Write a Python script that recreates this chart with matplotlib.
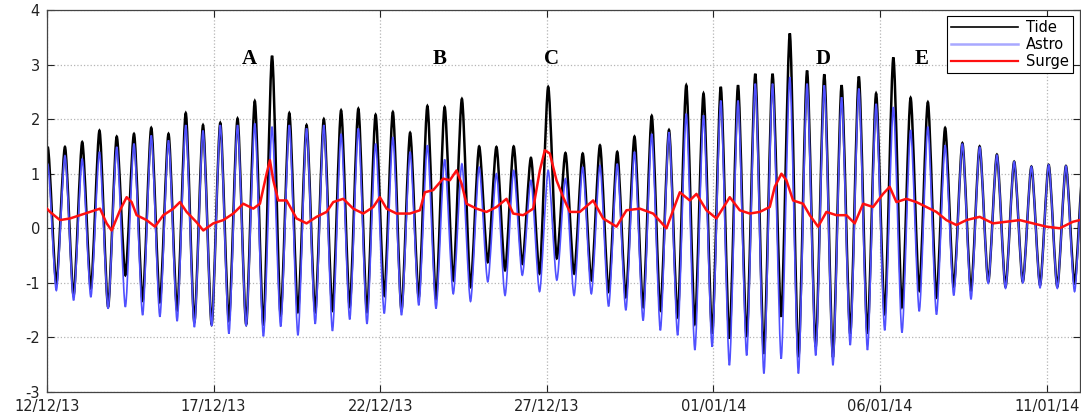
import matplotlib
matplotlib.use("Agg")
import matplotlib.pyplot as plt
import matplotlib.dates as mdates
from matplotlib.path import Path
from matplotlib.patches import PathPatch
from matplotlib.lines import Line2D
from datetime import datetime, timedelta

# ---------------- data ----------------
start = datetime(2013, 12, 12)
first_hw_hours = 0.5          # time of first high water after start
tidal_period_hours = 12.43    # semi-diurnal tidal cycle

tide_high = [1.49, 1.49, 1.58, 1.79, 1.68, 1.73, 1.84, 1.73, 2.11, 1.89,
             1.93, 2.01, 2.33, 3.16, 2.11, 1.89, 2.00, 2.16, 2.19, 2.08,
             2.13, 1.75, 2.24, 2.22, 2.37, 1.50, 1.49, 1.50, 1.29, 2.59,
             1.38, 1.37, 1.52, 1.40, 1.68, 2.06, 1.80, 2.62, 2.47, 2.59,
             2.62, 2.83, 2.83, 3.57, 2.89, 2.82, 2.62, 2.78, 2.47, 3.13,
             2.39, 2.31, 1.84, 1.56, 1.50, 1.35, 1.22, 1.13, 1.16, 1.14, 1.12]
tide_low = [-1.01, -1.23, -1.10, -1.44, -0.86, -1.32, -1.35, -1.50, -1.72, -1.76,
            -1.69, -1.76, -1.78, -1.59, -1.53, -1.53, -1.50, -1.43, -1.53, -1.23,
            -1.50, -1.26, -1.29, -0.95, -1.07, -0.62, -0.77, -0.65, -0.83, -0.55,
            -0.83, -0.95, -1.16, -1.26, -1.44, -1.50, -1.62, -1.75, -1.93, -2.02,
            -1.99, -2.30, -1.62, -2.36, -2.17, -2.36, -1.93, -1.93, -1.56, -1.44,
            -1.14, -1.26, -1.07, -1.14, -0.98, -1.07, -0.98, -1.04, -1.07, -1.01]
astro_high = [1.18, 1.33, 1.27, 1.40, 1.49, 1.55, 1.70, 1.61, 1.89, 1.79,
              1.89, 1.89, 1.92, 1.86, 1.89, 1.83, 1.89, 1.73, 1.83, 1.55,
              1.67, 1.40, 1.52, 1.26, 1.18, 1.12, 1.00, 1.06, 0.88, 1.06,
              0.91, 1.12, 1.15, 1.18, 1.40, 1.73, 1.76, 2.10, 2.07, 2.34,
              2.34, 2.65, 2.65, 2.77, 2.65, 2.62, 2.40, 2.56, 2.28, 2.22,
              1.80, 1.86, 1.52, 1.55, 1.49, 1.34, 1.22, 1.13, 1.16, 1.14, 1.12]
astro_low = [-1.14, -1.32, -1.26, -1.47, -1.44, -1.59, -1.62, -1.70, -1.81, -1.79,
             -1.93, -1.79, -1.98, -1.80, -1.96, -1.75, -1.88, -1.67, -1.75, -1.56,
             -1.59, -1.41, -1.47, -1.20, -1.34, -0.98, -1.23, -0.86, -1.16, -0.95,
             -1.23, -1.20, -1.43, -1.50, -1.69, -1.87, -1.96, -2.23, -2.17, -2.51,
             -2.33, -2.66, -2.39, -2.66, -2.33, -2.51, -2.14, -2.23, -1.87, -1.91,
             -1.52, -1.58, -1.23, -1.30, -1.01, -1.10, -1.00, -1.09, -1.10, -1.16]

surge_day = [0.00, 0.09, 0.39, 0.69, 0.99, 1.29, 1.59, 1.79, 1.94, 2.19,
             2.39, 2.54, 2.69, 2.99, 3.24, 3.49, 3.79, 3.99, 4.19, 4.49,
             4.69, 4.99, 5.29, 5.59, 5.89, 6.19, 6.39, 6.59, 6.69, 6.79,
             6.94, 7.19, 7.49, 7.79, 8.09, 8.39, 8.59, 8.89, 9.19, 9.49,
             9.79, 9.99, 10.19, 10.29, 10.49, 10.59, 10.89, 11.19, 11.34, 11.59,
             11.89, 12.09, 12.29, 12.44, 12.59, 12.89, 13.19, 13.49, 13.79, 13.99,
             14.29, 14.59, 14.79, 14.94, 15.09, 15.29, 15.49, 15.69, 15.99, 16.39,
             16.69, 17.09, 17.39, 17.79, 18.19, 18.59, 18.99, 19.29, 19.49, 19.79,
             20.09, 20.49, 20.79, 21.09, 21.39, 21.69, 21.84, 22.04, 22.19, 22.39,
             22.69, 22.89, 23.14, 23.39, 23.69, 23.99, 24.24, 24.49, 24.79, 25.09,
             25.29, 25.49, 25.79, 26.09, 26.39, 26.69, 26.99, 27.29, 27.59, 27.99,
             28.39, 28.79, 29.19, 29.59, 29.99, 30.39, 30.79, 30.99]
surge_val = [0.36, 0.30, 0.15, 0.18, 0.24, 0.30, 0.36, 0.09, -0.04, 0.33,
             0.57, 0.48, 0.24, 0.15, 0.03, 0.24, 0.36, 0.48, 0.30, 0.11,
             -0.04, 0.09, 0.15, 0.27, 0.45, 0.36, 0.45, 1.00, 1.25, 0.88,
             0.51, 0.51, 0.18, 0.09, 0.21, 0.30, 0.48, 0.54, 0.36, 0.27,
             0.39, 0.57, 0.36, 0.33, 0.27, 0.27, 0.27, 0.33, 0.66, 0.70,
             0.91, 0.88, 1.06, 0.82, 0.45, 0.36, 0.30, 0.39, 0.54, 0.27,
             0.24, 0.36, 1.06, 1.43, 1.37, 0.88, 0.57, 0.30, 0.30, 0.51,
             0.18, 0.03, 0.33, 0.36, 0.27, 0.00, 0.66, 0.51, 0.63, 0.33,
             0.18, 0.57, 0.33, 0.27, 0.30, 0.39, 0.76, 1.00, 0.88, 0.51,
             0.45, 0.24, 0.03, 0.30, 0.24, 0.24, 0.09, 0.45, 0.39, 0.63,
             0.76, 0.48, 0.54, 0.48, 0.39, 0.30, 0.15, 0.06, 0.15, 0.21,
             0.09, 0.12, 0.15, 0.09, 0.03, 0.00, 0.12, 0.15]

event_labels = ["A", "B", "C", "D", "E"]
event_day = [6.06, 11.79, 15.15, 23.28, 26.25]
event_level = [3.11, 3.11, 3.11, 3.11, 3.11]

tick_labels = ["12/12/13", "17/12/13", "22/12/13", "27/12/13",
               "01/01/14", "06/01/14", "11/01/14"]
y_ticks = [-3, -2, -1, 0, 1, 2, 3, 4]

# ---------------- build series ----------------
def extremes(highs, lows):
    t, v = [], []
    for k, h in enumerate(highs):
        t.append(mdates.date2num(start + timedelta(hours=first_hw_hours + k * tidal_period_hours)))
        v.append(h)
        if k < len(lows):
            t.append(mdates.date2num(start + timedelta(hours=first_hw_hours + (k + 0.5) * tidal_period_hours)))
            v.append(lows[k])
    return t, v


def smooth_tide_path(t, v, a=0.25):
    """Cubic Bezier segments between successive turning points
    (horizontal tangent at every high/low water)."""
    verts = [(t[0], v[0])]
    codes = [Path.MOVETO]
    for i in range(len(t) - 1):
        dt = t[i + 1] - t[i]
        verts += [(t[i] + a * dt, v[i]), (t[i + 1] - a * dt, v[i + 1]), (t[i + 1], v[i + 1])]
        codes += [Path.CURVE4] * 3
    return Path(verts, codes)


tide_t, tide_v = extremes(tide_high, tide_low)
astro_t, astro_v = extremes(astro_high, astro_low)
surge_t = [mdates.date2num(start + timedelta(days=d)) for d in surge_day]

# ---------------- plot ----------------
fig = plt.figure(figsize=(10.81, 4.18), dpi=100)
ax = fig.add_axes([47 / 1081, 26 / 418, 1033 / 1081, 382 / 418])

tide_col, astro_col, surge_col = "black", "#5050ff", "#ff1010"
ax.add_patch(PathPatch(smooth_tide_path(tide_t, tide_v), fill=False,
                       edgecolor=tide_col, lw=1.8, zorder=2))
ax.add_patch(PathPatch(smooth_tide_path(astro_t, astro_v), fill=False,
                       edgecolor=astro_col, lw=1.2, zorder=2.1))
ax.plot(surge_t, surge_val, color=surge_col, lw=1.8, zorder=3)

for lab, d, lev in zip(event_labels, event_day, event_level):
    ax.text(mdates.date2num(start + timedelta(days=d)), lev, lab, ha="center", va="center",
            fontfamily="Liberation Serif", fontweight="bold", fontsize=15)

ax.set_ylim(-3, 4)
ax.set_yticks(y_ticks)
ax.set_yticklabels([str(v) for v in y_ticks])
ax.set_xlim(mdates.date2num(start), mdates.date2num(start + timedelta(days=31)))
ax.set_xticks([mdates.date2num(datetime.strptime(s, "%d/%m/%y")) for s in tick_labels])
ax.set_xticklabels(tick_labels)

ax.grid(True, linestyle=":", color="#b5b5b5", linewidth=0.9)
ax.tick_params(direction="in", top=True, right=True, length=5, width=0.8,
               labelsize=10.5, colors="#222222", pad=5)
for sp in ax.spines.values():
    sp.set_color("#444444")
    sp.set_linewidth(0.9)

handles = [Line2D([], [], color=tide_col, lw=1.2, label="Tide"),
           Line2D([], [], color="#a8a8ff", lw=1.8, label="Astro"),
           Line2D([], [], color=surge_col, lw=1.6, label="Surge")]
leg = ax.legend(handles=handles, loc="upper right", bbox_to_anchor=(0.993, 0.985),
                borderaxespad=0, fancybox=False, framealpha=1, edgecolor="black",
                fontsize=10.5, handlelength=4.6, handletextpad=0.5, labelspacing=0.12,
                borderpad=0.3)
leg.get_frame().set_linewidth(0.8)

fig.savefig("out.png", dpi=100)
